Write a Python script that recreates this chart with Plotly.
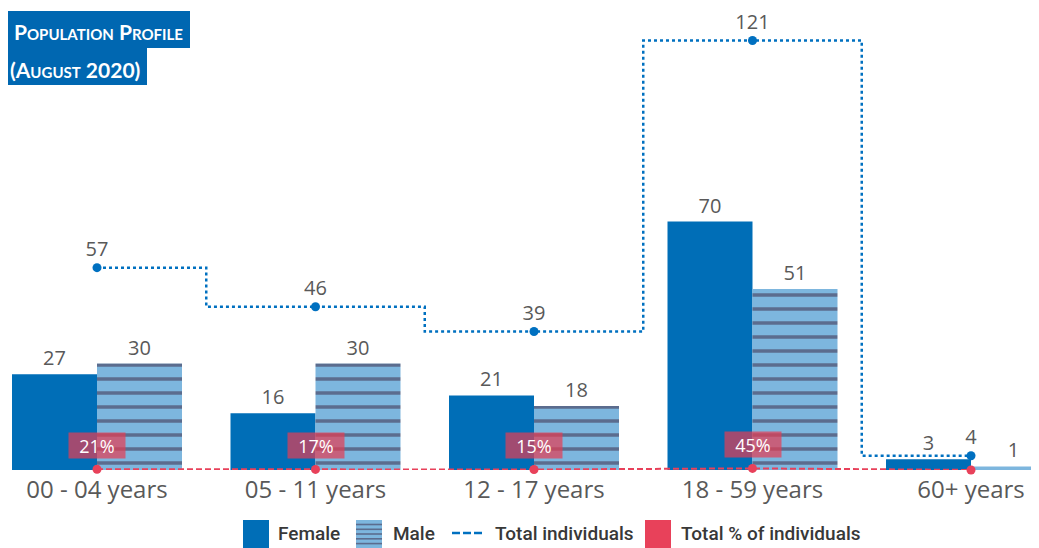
import plotly.graph_objects as go

# ---------------- data ----------------
categories = ["00 - 04 years", "05 - 11 years", "12 - 17 years", "18 - 59 years", "60+ years"]
female = [27, 16, 21, 70, 3]
male = [30, 30, 18, 51, 1]
total_individuals = [57, 46, 39, 121, 4]
total_pct = [21, 17, 15, 45, 1.5]
pct_labels = ["21%", "17%", "15%", "45%", ""]
title_lines = ["Population Profile", "(August 2020)"]
legend_labels = ["Female", "Male", "Total individuals", "Total % of individuals"]

# ---------------- styles ----------------
OFF = 8                 # page offset of the figure (body margin)
W, H = 1039 - OFF, 548 - OFF
BASE = 470              # page y of the bar baseline
PH = BASE - OFF         # plot-area height in px (top margin 0)
FEMALE_C = "#006EB7"
MALE_BG = "#7DB6DE"
MALE_STRIPE = "#5B6C8E"
TOTAL_C = "#0070C0"
PCT_C = "#E8415A"
GREY = "#595959"
TITLE_BG = "#0067B1"
NUM_FONT = "Open Sans, Noto Sans, sans-serif"
LEG_FONT = "Roboto, Liberation Sans, sans-serif"
TITLE_FONT = "Lato, Open Sans, sans-serif"


def px(x_page):
    return (x_page - OFF) / W


def py(y_page):
    return (BASE - y_page) / PH


fig = go.Figure()

fig.add_trace(go.Bar(
    x=categories, y=female, name=legend_labels[0],
    marker=dict(color=FEMALE_C, line=dict(width=0)),
    text=female, texttemplate="%{text}", textposition="outside",
    textfont=dict(size=20, color=GREY, family=NUM_FONT),
    cliponaxis=False,
))
fig.add_trace(go.Bar(
    x=categories, y=male, name=legend_labels[1],
    marker=dict(color=MALE_BG, line=dict(width=0),
                pattern=dict(shape="-", fillmode="replace", bgcolor=MALE_BG,
                             fgcolor=MALE_STRIPE, size=14, solidity=0.25)),
    text=male, texttemplate="%{text}", textposition="outside",
    textfont=dict(size=20, color=GREY, family=NUM_FONT),
    cliponaxis=False,
))
fig.add_trace(go.Scatter(
    x=categories, y=total_individuals, name=legend_labels[2],
    mode="lines+markers+text", line=dict(color=TOTAL_C, width=2.5, dash="dot", shape="hvh"),
    marker=dict(color=TOTAL_C, size=9),
    text=total_individuals, textposition="top center",
    textfont=dict(size=20, color=GREY, family=NUM_FONT),
    cliponaxis=False,
))
fig.add_trace(go.Scatter(
    x=categories, y=[p / 100 for p in total_pct], name=legend_labels[3],
    mode="lines+markers", line=dict(color=PCT_C, width=2, dash="6px,3px"),
    marker=dict(color=PCT_C, size=9),
    cliponaxis=False,
))

annotations = []
for c, p, lab in zip(categories, total_pct, pct_labels):
    if lab:
        annotations.append(dict(
            x=c, y=p / 100, xref="x", yref="y", text=lab, showarrow=False,
            yshift=24, yanchor="middle", bgcolor="rgba(229,60,82,0.7)",
            width=54, height=23, borderpad=1,
            font=dict(size=18, color="white", family=NUM_FONT),
        ))

# title boxes
shapes = [
    dict(type="rect", xref="paper", yref="paper", x0=px(OFF - 2), x1=px(190), y0=py(48), y1=py(11),
         fillcolor=TITLE_BG, line=dict(width=0), layer="above"),
    dict(type="rect", xref="paper", yref="paper", x0=px(OFF - 2), x1=px(147), y0=py(85), y1=py(48),
         fillcolor=TITLE_BG, line=dict(width=0), layer="above"),
]
annotations.append(dict(x=px(185), y=py(31), xref="paper", yref="paper", xanchor="right", yanchor="middle",
                        text="<b>" + title_lines[0] + "</b>", showarrow=False,
                        font=dict(size=21, color="white", family=TITLE_FONT, variant="small-caps")))
annotations.append(dict(x=px(142), y=py(69), xref="paper", yref="paper", xanchor="right", yanchor="middle",
                        text="<b>" + title_lines[1] + "</b>", showarrow=False,
                        font=dict(size=21, color="white", family=TITLE_FONT, variant="small-caps")))

# manual legend
LEG_Y0, LEG_Y1 = 520, 548
shapes.append(dict(type="rect", xref="paper", yref="paper", x0=px(243), x1=px(269), y0=py(LEG_Y1), y1=py(LEG_Y0),
                   fillcolor=FEMALE_C, line=dict(width=0)))
shapes.append(dict(type="rect", xref="paper", yref="paper", x0=px(356), x1=px(382), y0=py(LEG_Y1), y1=py(LEG_Y0),
                   fillcolor=MALE_BG, line=dict(width=0)))
for sy in [524.5, 529.3, 534.0, 538.8, 543.6]:
    shapes.append(dict(type="line", xref="paper", yref="paper", x0=px(356), x1=px(382), y0=py(sy), y1=py(sy),
                       line=dict(color=MALE_STRIPE, width=1.6)))
for a, b in [(452, 460), (463, 471), (474, 482)]:
    shapes.append(dict(type="line", xref="paper", yref="paper", x0=px(a), x1=px(b), y0=py(533), y1=py(533),
                       line=dict(color=TOTAL_C, width=2.5)))
shapes.append(dict(type="rect", xref="paper", yref="paper", x0=px(645), x1=px(671), y0=py(LEG_Y1), y1=py(LEG_Y0),
                   fillcolor=PCT_C, line=dict(width=0)))
for xl, lab in zip([276, 391, 493, 679], legend_labels):
    annotations.append(dict(x=px(xl), y=py(533), xref="paper", yref="paper", xanchor="left", yanchor="middle",
                            text=lab, showarrow=False,
                            font=dict(size=19, color="#383838", family=LEG_FONT, weight=500)))

# x range so that category i is centred at page x = 97 + 218.5 * i
x_lo = (OFF - 97) / 218.5
x_hi = (OFF + W - 97) / 218.5

fig.update_layout(
    width=W, height=H,
    margin=dict(l=0, r=0, t=0, b=H - PH),
    paper_bgcolor="white", plot_bgcolor="white",
    barmode="group", bargap=0.222, bargroupgap=0,
    showlegend=False,
    shapes=shapes, annotations=annotations,
    xaxis=dict(type="category", range=[x_lo, x_hi], showgrid=False, showline=False, zeroline=False,
               ticks="", ticklabelstandoff=3,
               tickfont=dict(size=24, color=GREY, family=NUM_FONT)),
    yaxis=dict(range=[0, PH / 3.55], visible=False, showgrid=False, zeroline=False),
)

fig.write_html("out.html")
